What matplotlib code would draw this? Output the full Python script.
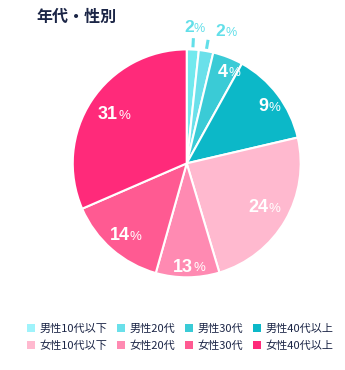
import numpy as np
import matplotlib.pyplot as plt
from matplotlib.patches import Patch

plt.rcParams['font.family'] = ['Noto Sans CJK JP', 'DejaVu Sans']

# data
labels = ['男性10代以下', '男性20代', '男性30代', '男性40代以上',
          '女性10代以下', '女性20代', '女性30代', '女性40代以上']
# slice sizes as drawn, and the percentages printed on them
sizes = [1.7, 2.05, 4.3, 13.3, 24, 9, 14.1, 31.5]
shown = [2, 2, 4, 9, 24, 13, 14, 31]
colors = ['#9ff3fb', '#6ae0ea', '#3acbd6', '#0cb8c8',
          '#ffb9cf', '#ff8ab2', '#ff5a92', '#ff2a7a']

pie_colors = list(colors)
pie_colors[0] = '#72e9ee'
navy = '#1b2546'
cyan_lbl = '#62dfe9'

fig = plt.figure(figsize=(3.45, 3.7), dpi=100)
ax = fig.add_axes([0.2107, 0.2505, 0.661, 0.616])

wedges, _ = ax.pie(sizes, colors=pie_colors, startangle=90, counterclock=False,
                   wedgeprops=dict(edgecolor='white', linewidth=1.5))
ax.set_xlim(-1, 1)
ax.set_ylim(-1, 1)
ax.set_aspect('equal')


def pct_label(x, y, num, color, big, small):
    ax.text(x + 0.05, y, str(num), ha='right', va='center', fontsize=big,
            fontweight='bold', color=color, family='Liberation Sans')
    ax.text(x + 0.052, y - 0.012, '%', ha='left', va='center', fontsize=small,
            color=color, family='Liberation Sans')


label_r = [0, 0, 0.86, 0.83, 0.77, 0.91, 0.84, 0.78]
outer_shift = [2.5, -4]  # degrees nudging the outside labels
total = sum(sizes)
cum = 0
for i, v in enumerate(sizes):
    mid = 90 - (cum + v / 2) / total * 360
    cum += v
    a = np.deg2rad(mid)
    if i < 2:
        ax.plot([1.02 * np.cos(a), 1.10 * np.cos(a)],
                [1.02 * np.sin(a), 1.10 * np.sin(a)],
                color=cyan_lbl, lw=2.2, clip_on=False, solid_capstyle='butt')
        b = np.deg2rad(mid + outer_shift[i])
        pct_label(1.19 * np.cos(b), 1.19 * np.sin(b), shown[i], cyan_lbl, 12.5, 9)
        continue
    r = label_r[i]
    pct_label(r * np.cos(a), r * np.sin(a), shown[i], 'white', 13, 9.5)

fig.text(0.105, 0.953, '年代・性別', fontsize=11.5, fontweight='bold',
         color=navy, va='center', ha='left')

order = [0, 4, 1, 5, 2, 6, 3, 7]
handles = [Patch(facecolor=colors[i], edgecolor='none') for i in order]
fig.legend(handles, [labels[i] for i in order], ncol=4, loc='center',
           bbox_to_anchor=(0.522, 0.088), frameon=False, fontsize=8,
           handlelength=0.75, handleheight=0.75, handletextpad=0.4,
           columnspacing=0.85, labelspacing=0.6, labelcolor=navy,
           borderpad=0)

fig.savefig('out.png', dpi=100)
